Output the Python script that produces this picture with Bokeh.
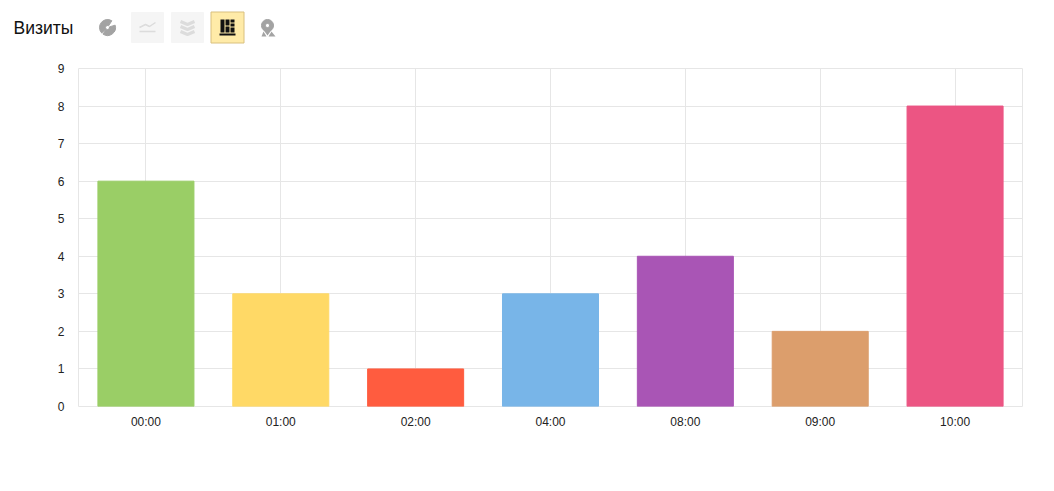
from bokeh.plotting import figure
from bokeh.layouts import column
from bokeh.models import FixedTicker, Range1d
from bokeh.core.properties import value
from bokeh.embed import file_html
from bokeh.resources import INLINE

title = "Визиты"
categories = ["00:00", "01:00", "02:00", "04:00", "08:00", "09:00", "10:00"]
visits = [6, 3, 1, 3, 4, 2, 8]
colors = ["#9ACE66", "#FFD966", "#FF5C3F", "#78B5E8", "#A955B5", "#DC9E6C", "#EC5583"]
y_ticks = list(range(10))
FONT = "Liberation Sans"
GRID = "#e6e6e6"
ICON = "#a3a3a3"
ICON_OFF = "#dcdcdc"

# header strip: coordinates are page pixels
h = figure(width=1040, height=58, x_range=Range1d(0, 1040), y_range=Range1d(58, 0),
           toolbar_location=None, output_backend="svg", min_border=0)
h.frame_align = False
h.axis.visible = False
h.grid.visible = False
h.outline_line_color = None
h.text([13], [27], text=[title], text_font=value(FONT), text_font_size="17.5px",
       text_color="#111111", text_baseline="middle", text_align="left")
# pie icon
h.annular_wedge([107, 107], [27, 27], inner_radius=2, outer_radius=8,
                start_angle=[1.0, 4.1], end_angle=[3.9, 6.58],
                color=ICON, inner_radius_units="screen", outer_radius_units="screen")
# disabled buttons
for cx in (147, 187):
    h.quad(left=[cx - 16], right=[cx + 16], top=[12], bottom=[42], fill_color="#f5f5f5", line_color="#f5f5f5")
h.multi_line([[139, 145, 149, 155], [139, 155]], [[27, 24, 26, 22], [31, 31]], line_color=ICON_OFF, line_width=1.5)
h.multi_line([[180, 187, 194], [180, 187, 194], [180, 187, 194]],
             [[21, 24, 21], [26, 29, 26], [31, 34, 31]], line_color=ICON_OFF, line_width=3)
# active button
h.quad(left=[210.5], right=[243.5], top=[11.5], bottom=[42.5], fill_color="#FFEBA8", line_color="#D9C07F")
h.quad(left=[220, 225, 225, 230, 230, 230],
       right=[224, 229, 229, 234, 234, 234],
       top=[19, 19, 26, 19, 23, 27],
       bottom=[32, 25, 32, 22, 26, 32],
       fill_color="#111111", line_color=None)
h.quad(left=[219], right=[235], top=[33], bottom=[35], fill_color="#111111", line_color=None)
# map marker icon
h.annular_wedge([267], [25], inner_radius=2, outer_radius=6, start_angle=[0], end_angle=[6.283],
                color=ICON, inner_radius_units="screen", outer_radius_units="screen")
h.patches([[262, 267, 272], [261, 266, 263], [268, 275, 271]], [[28, 35, 28], [36, 36, 31], [36, 36, 31]],
          fill_color=ICON, line_color=None)

# chart
p = figure(width=1040, height=425, x_range=categories, y_range=Range1d(0, 9),
           toolbar_location=None, output_backend="svg",
           min_border_left=78, min_border_right=18, min_border_top=10, min_border_bottom=77)
p.frame_align = False
p.vbar(x=categories, top=visits, width=0.712, color=colors)
p.outline_line_color = GRID
p.xgrid.grid_line_color = GRID
p.ygrid.grid_line_color = GRID
p.ygrid.ticker = FixedTicker(ticks=y_ticks)
p.yaxis.ticker = FixedTicker(ticks=y_ticks)
for ax in (p.xaxis[0], p.yaxis[0]):
    ax.axis_line_color = None
    ax.major_tick_line_color = None
    ax.minor_tick_line_color = None
    ax.major_label_text_font = FONT
    ax.major_label_text_font_size = "12px"
    ax.major_label_text_color = "#222222"
p.xaxis.major_label_standoff = 2
p.yaxis.major_label_standoff = 8

layout = column(h, p, spacing=0)
open("out.html", "w").write(file_html(layout, INLINE))
